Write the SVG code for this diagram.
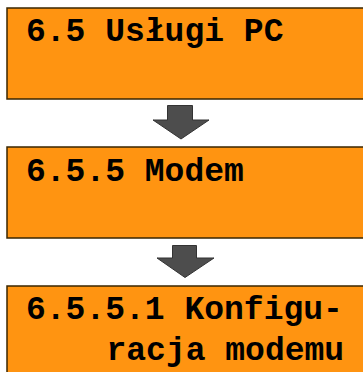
<svg xmlns="http://www.w3.org/2000/svg" width="363" height="372" viewBox="0 0 363 372">
<style>
.box{fill:#ff9411;stroke:#3a2600;stroke-width:1.5}
.t{font-family:"Liberation Mono","Courier New",monospace;font-weight:bold;font-size:33px;fill:#000}
.arr{fill:#4d4d4d;stroke:#333;stroke-width:1}
</style>
<rect width="363" height="372" fill="#fff"/>
<g id="node1">
<rect class="box" x="7" y="8" width="370" height="91"/>
<text class="t" x="26" y="41">6.5 Usługi PC</text>
</g>
<g id="node2">
<rect class="box" x="7" y="147" width="370" height="91"/>
<text class="t" x="26" y="181">6.5.5 Modem</text>
</g>
<g id="node3">
<rect class="box" x="7" y="286" width="370" height="100"/>
<text class="t" x="26" y="318.5">6.5.5.1 Konfigu-</text>
<text class="t" x="106.5" y="359.5">racja modemu</text>
</g>
<g id="connectors">
<polygon class="arr" points="167.5,105.5 192.5,105.5 192.5,120 209,120 181,139 153,120 167.5,120"/>
<polygon class="arr" points="172.5,245.5 196.5,245.5 196.5,258 214,258 185,277.5 157,258 172.5,258"/>
</g>
</svg>
